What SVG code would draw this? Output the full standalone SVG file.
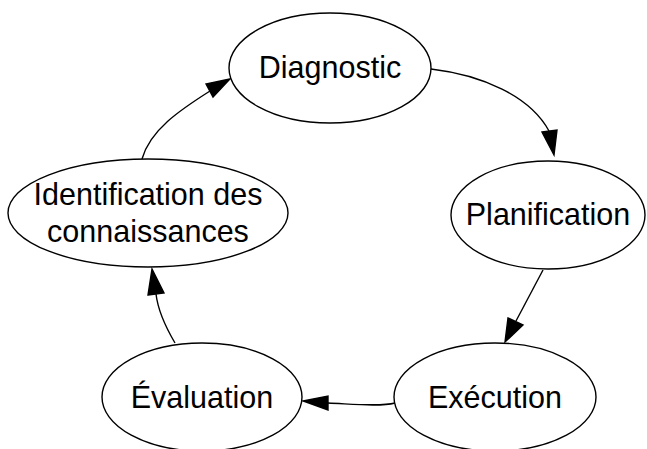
<svg xmlns="http://www.w3.org/2000/svg" width="647" height="449" viewBox="0 0 647 449">
<style>
.node ellipse{fill:#fff;stroke:#000;stroke-width:1.4}
.node text{font-family:"Liberation Sans",Arial,sans-serif;font-size:30.5px;fill:#000;text-anchor:middle}
.edge path{fill:none;stroke:#000;stroke-width:1.4}
.edge polygon{fill:#000;stroke:#000;stroke-width:1.4}
</style>
<rect width="647" height="449" fill="#fff"/>
<g id="edges">
<g class="edge" id="e1"><path d="M431,69 C482,75 530,96 549,131"/><polygon points="542,132 557,130 554,155"/></g>
<g class="edge" id="e2"><path d="M543,270 L516,321"/><polygon points="508,318 523,325 505,342"/></g>
<g class="edge" id="e3"><path d="M395,403 C380,407 352,404 328,403"/><polygon points="328,396 328,410 303,401"/></g>
<g class="edge" id="e4"><path d="M175,343 C165,326 158,311 156,294"/><polygon points="148,295 164,293 152,269"/></g>
<g class="edge" id="e5"><path d="M142,159 C150,130 180,110 210,91"/><polygon points="206,84 213,97 230,79"/></g>
</g>
<g class="node" id="diagnostic"><ellipse cx="330" cy="68" rx="101" ry="55"/><text x="330" y="77.5">Diagnostic</text></g>
<g class="node" id="planification"><ellipse cx="548" cy="215" rx="97" ry="54"/><text x="548" y="225">Planification</text></g>
<g class="node" id="execution"><ellipse cx="495" cy="397" rx="101" ry="54"/><text x="495" y="407.5">Exécution</text></g>
<g class="node" id="evaluation"><ellipse cx="202" cy="397" rx="100" ry="54"/><text x="202" y="408">Évaluation</text></g>
<g class="node" id="identification"><ellipse cx="148" cy="213" rx="140" ry="54"/><text x="148" y="205">Identification des</text><text x="148" y="242">connaissances</text></g>
</svg>
